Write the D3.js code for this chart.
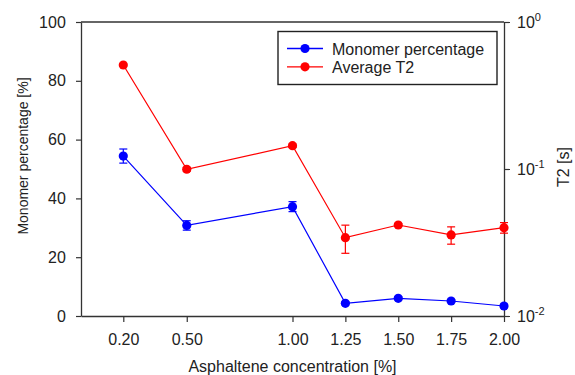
<!DOCTYPE html>
<html>
<head>
<meta charset="utf-8">
<script src="https://cdn.jsdelivr.net/npm/d3@7"></script>
<style>
  body { margin: 0; background: #fff; }
  text { font-family: Arial, "Liberation Sans", sans-serif; fill: #222; }
</style>
</head>
<body>
<div id="vis"></div>
<script>
// data
let conc = [0.20, 0.50, 1.00, 1.25, 1.50, 1.75, 2.00]
let concLabels = ['0.20', '0.50', '1.00', '1.25', '1.50', '1.75', '2.00']
let monomer = [54.4, 30.8, 37.2, 4.3, 6.0, 5.1, 3.4]
let monomerErr = [2.4, 1.6, 1.7, 0.5, 0.5, 0.5, 0.6]
let t2 = [0.51, 0.0996, 0.144, 0.0341, 0.0416, 0.0356, 0.0399]
let t2Err = [0, 0.003, 0.004, 0.0074, 0.001, 0.0048, 0.0033]
let leftTicks = [0, 20, 40, 60, 80, 100]
let rightTicks = [-2, -1, 0]

let width = 575, height = 375
let margin = { top: 22, left: 81, right: 71, bottom: 59 }
let plotW = width - margin.left - margin.right,
  plotH = height - margin.top - margin.bottom

let svg = d3.select('#vis')
  .append('svg')
  .attr('width', width)
  .attr('height', height)

let g = svg.append('g')
  .attr('transform', 'translate(' + margin.left + ',' + margin.top + ')')

let x = d3.scaleLinear().domain([0, 2]).range([0, plotW])
let yL = d3.scaleLinear().domain([0, 100]).range([plotH, 0])
let yR = d3.scaleLog().domain([0.01, 1]).range([plotH, 0])

let axisColor = '#333'

// axes
let xAxis = g.append('g')
  .attr('transform', 'translate(0,' + plotH + ')')
  .call(d3.axisBottom(x).tickValues(conc).tickFormat((d, i) => concLabels[i]).tickSize(6).tickSizeOuter(0))
let lAxis = g.append('g')
  .call(d3.axisLeft(yL).tickValues(leftTicks).tickSize(5).tickSizeOuter(0))
let rAxis = g.append('g')
  .attr('transform', 'translate(' + plotW + ',0)')
  .call(d3.axisRight(yR).tickValues(rightTicks.map(e => Math.pow(10, e))).tickFormat('').tickSize(6).tickSizeOuter(0))

;[xAxis, lAxis, rAxis].forEach(a => {
  a.select('.domain').attr('stroke', axisColor).attr('stroke-width', 1.3)
  a.selectAll('.tick line').attr('stroke', axisColor).attr('stroke-width', 1.2)
  a.selectAll('.tick text').attr('font-size', 16).attr('fill', '#222')
    .style('font-family', 'Arial, "Liberation Sans", sans-serif')
})
xAxis.selectAll('.tick text').attr('dy', '1.25em')
lAxis.selectAll('.tick text').attr('dx', '-0.45em')

// top frame line
g.append('line')
  .attr('x1', 0).attr('x2', plotW).attr('y1', 0).attr('y2', 0)
  .attr('stroke', axisColor).attr('stroke-width', 1.3)

// right axis tick labels with superscripts
rightTicks.forEach(e => {
  let t = g.append('text')
    .attr('x', plotW + 13)
    .attr('y', yR(Math.pow(10, e)) + 6)
    .attr('font-size', 16)
  t.append('tspan').text('10')
  t.append('tspan').attr('dy', -7).attr('font-size', 11).text(e)
})

// axis titles
svg.append('text')
  .attr('x', margin.left + plotW / 2)
  .attr('y', 372)
  .attr('text-anchor', 'middle')
  .attr('font-size', 16)
  .text('Asphaltene concentration [%]')

svg.append('text')
  .attr('transform', 'translate(28,156) rotate(-90)')
  .attr('text-anchor', 'middle')
  .attr('font-size', 14)
  .text('Monomer percentage [%]')

svg.append('text')
  .attr('transform', 'translate(569,167) rotate(-90)')
  .attr('text-anchor', 'middle')
  .attr('font-size', 16)
  .text('T2 [s]')

// series
function drawSeries(vals, errs, yScale, color) {
  let line = d3.line()
    .x((d, i) => x(conc[i]))
    .y(d => yScale(d))
  g.append('path')
    .datum(vals)
    .attr('d', line)
    .attr('fill', 'none')
    .attr('stroke', color)
    .attr('stroke-width', 1.2)

  let eb = g.append('g')
  vals.forEach((v, i) => {
    if (!errs[i]) return
    let cx = x(conc[i])
    let y1 = yScale(v + errs[i]), y2 = yScale(v - errs[i])
    eb.append('line').attr('x1', cx).attr('x2', cx).attr('y1', y1).attr('y2', y2)
      .attr('stroke', color).attr('stroke-width', 1.2)
    ;[y1, y2].forEach(yy => {
      eb.append('line').attr('x1', cx - 4).attr('x2', cx + 4).attr('y1', yy).attr('y2', yy)
        .attr('stroke', color).attr('stroke-width', 1.2)
    })
  })

  g.append('g').selectAll('circle')
    .data(vals)
    .join('circle')
    .attr('cx', (d, i) => x(conc[i]))
    .attr('cy', d => yScale(d))
    .attr('r', 4.6)
    .attr('fill', color)
}

drawSeries(monomer, monomerErr, yL, '#0000ff')
drawSeries(t2, t2Err, yR, '#ff0000')

// legend
let legend = svg.append('g')
legend.append('rect')
  .attr('x', 278).attr('y', 31.5).attr('width', 219).attr('height', 53)
  .attr('fill', '#fff').attr('stroke', '#222').attr('stroke-width', 1.4)

let legendItems = [
  { name: 'Monomer percentage', color: '#0000ff' },
  { name: 'Average T2', color: '#ff0000' }
]
legendItems.forEach((d, i) => {
  let yy = 48.5 + i * 18.3
  legend.append('line')
    .attr('x1', 287).attr('x2', 323).attr('y1', yy).attr('y2', yy)
    .attr('stroke', d.color).attr('stroke-width', 1.3)
  legend.append('circle')
    .attr('cx', 305).attr('cy', yy).attr('r', 4.6).attr('fill', d.color)
  legend.append('text')
    .attr('x', 332).attr('y', yy + 6)
    .attr('font-size', 16)
    .text(d.name)
})
</script>
</body>
</html>
